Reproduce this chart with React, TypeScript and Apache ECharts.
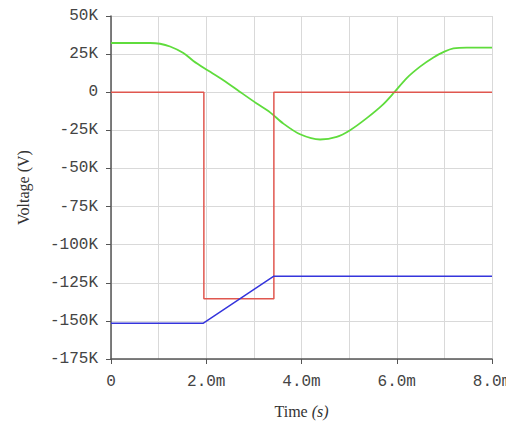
import React, { useEffect, useRef } from "react";
import * as echarts from "echarts";

// Time in ms, voltage in K (kV)
const greenTime = [0, 0.82, 1.03, 1.24, 1.52, 1.73, 1.97, 2.36, 2.71, 3.06, 3.34, 3.62, 3.97, 4.39, 4.74, 5.02, 5.37, 5.72, 5.95, 6.21, 6.49, 6.77, 7.0, 7.19, 7.47, 8.0];
const greenVolt = [32.3, 32.3, 31.8, 30.0, 25.8, 20.5, 15.5, 7.9, 0.2, -7.4, -13.2, -20.6, -27.6, -31, -29.3, -24.9, -17.0, -7.8, 0, 9.3, 16.8, 22.8, 26.6, 28.7, 29.3, 29.3];
const redTime = [0, 1.95, 1.95, 3.42, 3.42, 8.0];
const redVolt = [0, 0, -135.5, -135.5, 0, 0];
const blueTime = [0, 1.94, 3.42, 8.0];
const blueVolt = [-151.5, -151.5, -120.7, -120.7];

const zip = (a: number[], b: number[]) => a.map((t, i) => [t, b[i]]);

export default function App() {
  const ref = useRef<HTMLDivElement>(null);
  useEffect(() => {
    document.body.style.margin = "0";
    document.body.style.overflow = "hidden";
    document.documentElement.style.overflow = "hidden";
    const chart = echarts.init(ref.current!, null, { renderer: "svg" });
    const gridColor = "#d9d9d9";
    const axisColor = "#555";
    const mono = "'Liberation Mono', monospace";
    const serif = "'Liberation Serif', serif";
    chart.setOption({
      animation: false,
      backgroundColor: "#fff",
      grid: { left: 111, right: 14, top: 16, bottom: 65, containLabel: false, outerBoundsMode: "none" },
      xAxis: {
        type: "value",
        min: 0,
        max: 8,
        interval: 2,
        name: "Time {i|(s)}",
        nameLocation: "middle",
        nameGap: 44,
        nameTextStyle: {
          fontFamily: serif,
          fontSize: 16,
          color: "#333",
          rich: {
            i: { fontFamily: serif, fontSize: 16, color: "#333", fontStyle: "italic" },
          },
        },
        axisLine: { show: true, onZero: false, lineStyle: { color: axisColor, width: 1.5 } },
        axisTick: { show: true, inside: false, length: 5, lineStyle: { color: axisColor } },
        axisLabel: {
          fontFamily: mono,
          fontSize: 16,
          color: "#444",
          margin: 15,
          formatter: (v: number) => (v === 0 ? "0" : v.toFixed(1) + "m"),
        },
        splitLine: { show: true, lineStyle: { color: gridColor, width: 1 } },
        minorTick: { show: false, splitNumber: 2 },
        minorSplitLine: { show: true, lineStyle: { color: gridColor, width: 1 } },
      },
      yAxis: {
        type: "value",
        min: -175,
        max: 50,
        interval: 25,
        name: "Voltage (V)",
        nameLocation: "middle",
        nameGap: 80,
        nameRotate: 90,
        nameTextStyle: { fontFamily: serif, fontSize: 16, color: "#333" },
        axisLine: { show: true, onZero: false, lineStyle: { color: axisColor, width: 1.5 } },
        axisTick: { show: true, inside: false, length: 5, lineStyle: { color: axisColor } },
        axisLabel: {
          fontFamily: mono,
          fontSize: 16,
          color: "#444",
          margin: 13,
          formatter: (v: number) => (v === 0 ? "0" : v + "K"),
        },
        splitLine: { show: true, lineStyle: { color: gridColor, width: 1 } },
      },
      series: [
        {
          type: "line",
          data: zip(greenTime, greenVolt),
          smooth: 0.3,
          showSymbol: false,
          lineStyle: { color: "#5fdc3c", width: 1.8 },
        },
        {
          type: "line",
          data: zip(redTime, redVolt),
          showSymbol: false,
          lineStyle: { color: "#e0574f", width: 1.5 },
        },
        {
          type: "line",
          data: zip(blueTime, blueVolt),
          showSymbol: false,
          lineStyle: { color: "#3535dc", width: 1.5 },
        },
      ],
    });
    return () => chart.dispose();
  }, []);
  return <div ref={ref} style={{ width: 506, height: 424 }} />;
}
